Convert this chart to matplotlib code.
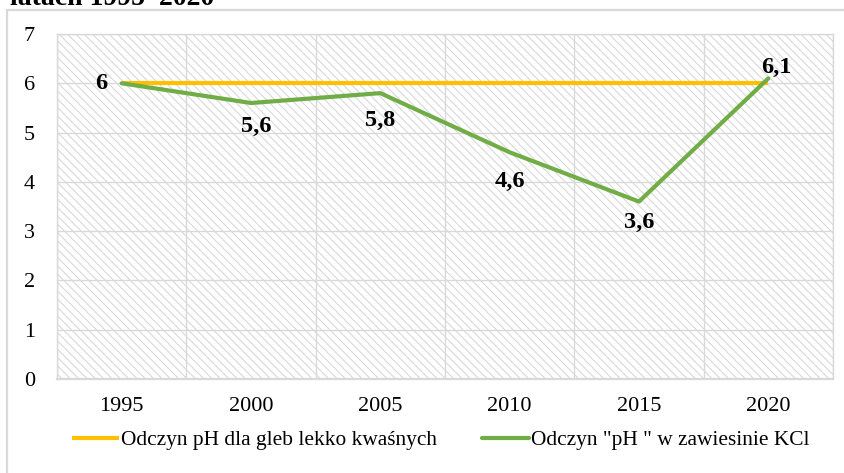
import matplotlib
matplotlib.use("Agg")
import matplotlib.pyplot as plt
from matplotlib.patches import Rectangle
import numpy as np

years = [1995, 2000, 2005, 2010, 2015, 2020]
ph_reference = [6, 6, 6, 6, 6, 6]
ph_kcl = [6.0, 5.6, 5.8, 4.6, 3.6, 6.1]
kcl_labels = ["6", "5,6", "5,8", "4,6", "3,6", "6,1"]
legend_labels = ["Odczyn pH dla gleb lekko kwaśnych", 'Odczyn "pH " w zawiesinie KCl']
title_fragment = "latach 1995–2020"

# label offsets (points) relative to the data point
label_offsets = [(-15, 0), (4, -17), (0, -20), (0, -21), (0, -15), (6, 8)]

plt.rcParams["font.family"] = ["Liberation Serif", "DejaVu Serif"]
plt.rcParams["hatch.linewidth"] = 0.7
plt.rcParams["hatch.color"] = "#d4d4d4"

W, H = 845, 473
fig = plt.figure(figsize=(W / 100, H / 100), dpi=100)
fig.patch.set_facecolor("white")

# outer chart frame (cropped at right and bottom)
frame = Rectangle((7 / W, -0.2), 1.2, (H - 10) / H + 0.2, transform=fig.transFigure,
                  fill=False, edgecolor="#d9d9d9", linewidth=1.6, clip_on=False)
fig.patches.append(frame)

# cropped title fragment
fig.text(214 / W, 1 - 5 / H, title_fragment, ha="right", va="baseline",
         fontsize=20, fontweight="bold", color="black")

ax = fig.add_axes([57 / W, 1 - 379 / H, (833 - 57) / W, (379 - 34) / H])
ax.set_facecolor("white")
bg = Rectangle((0, 0), 1, 1, transform=ax.transAxes, facecolor="white",
               edgecolor="#d4d4d4", hatch="\\\\\\\\", linewidth=0, zorder=0)
ax.add_patch(bg)

ax.set_xlim(1992.5, 2022.5)
ax.set_ylim(0, 7)
ax.set_xticks(years)
ax.set_yticks(range(0, 8))
ax.set_xticks(np.arange(1992.5, 2022.6, 2.5), minor=True)
ax.grid(which="minor", axis="x", color="#d9d9d9", linewidth=1.0, zorder=1)
ax.grid(which="major", axis="y", color="#d9d9d9", linewidth=1.0, zorder=1)
ax.tick_params(which="both", length=0)
ax.tick_params(axis="x", pad=13, labelsize=16)
ax.tick_params(axis="y", pad=16, labelsize=16)
for s in ax.spines.values():
    s.set_color("#d9d9d9")
    s.set_linewidth(1.0)
ax.spines["bottom"].set_linewidth(1.6)

l1, = ax.plot(years, ph_reference, color="#FFC000", linewidth=3.0, zorder=3,
              solid_capstyle="butt")
l2, = ax.plot(years, ph_kcl, color="#70AD47", linewidth=3.0, zorder=4,
              solid_joinstyle="round", solid_capstyle="round")

for x, y, t, off in zip(years, ph_kcl, kcl_labels, label_offsets):
    ax.annotate(t, (x, y), xytext=off, textcoords="offset points",
                ha="center", va="center", fontsize=17.5, fontweight="bold", zorder=5)

fig.legend([l1, l2], legend_labels, loc="center", ncol=2,
           bbox_to_anchor=(441 / W, 1 - 440 / H), frameon=False,
           fontsize=15.4, handlelength=2.2, handletextpad=0.1, columnspacing=2.1)

fig.savefig("out.png", dpi=100)
